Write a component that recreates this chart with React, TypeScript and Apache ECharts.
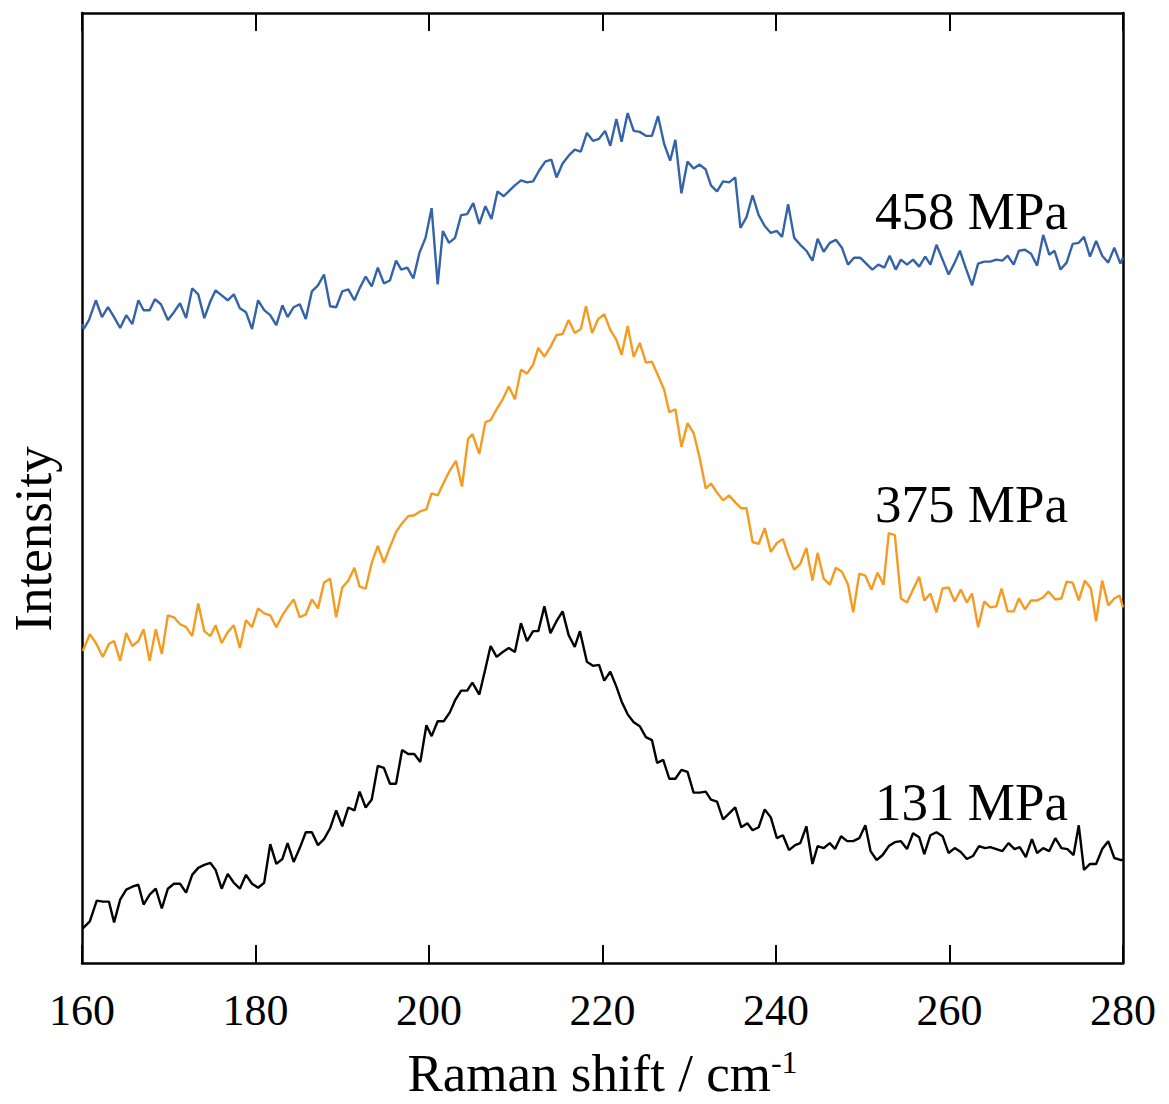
import React, { useEffect, useRef } from "react";
import * as echarts from "echarts";

// Raman shift (cm^-1) and intensity (a.u.)
const x458 = [160.0,160.2,160.8,161.6,162.3,163.0,163.7,164.4,165.1,165.8,166.5,167.1,167.8,168.4,169.1,169.9,170.6,171.3,172.0,172.7,173.4,174.1,174.8,175.4,176.1,176.8,177.5,178.2,178.9,179.6,180.3,181.0,181.7,182.4,183.1,183.7,184.4,185.1,185.8,186.5,187.2,187.9,188.6,189.3,190.0,190.7,191.4,192.0,192.7,193.4,194.1,194.8,195.5,196.2,
  196.8,197.5,198.2,198.9,199.6,200.3,201.0,201.6,202.3,203.0,203.7,204.4,205.1,205.8,206.5,207.2,207.9,208.6,209.3,209.9,210.6,211.3,212.0,212.7,213.4,214.1,214.7,215.4,216.1,216.8,217.5,218.2,218.9,219.6,220.3,220.9,221.6,222.2,222.9,223.6,224.3,225.0,225.7,226.4,227.1,227.8,228.4,229.1,229.8,230.5,231.2,231.9,232.5,233.2,233.9,234.6,235.3,235.9,236.6,237.3,238.0,238.7,239.4,240.1,
  240.7,241.4,242.1,242.8,243.5,244.2,244.8,245.5,246.2,246.9,247.6,248.3,249.0,249.7,250.4,251.1,251.8,252.5,253.1,253.8,254.4,255.1,255.8,256.5,257.2,257.8,258.5,259.2,259.9,260.6,261.2,261.9,262.6,263.3,264.0,264.7,265.4,266.1,266.7,267.4,268.0,268.7,269.4,270.1,270.8,271.5,272.1,272.8,273.5,274.2,274.9,275.5,276.2,276.9,277.6,278.3,279.0,279.7,280.0];
const y458 = [645,640,649,669,652,662,652,641,654,645,669,659,659,670,665,649,657,666,651,681,675,651,668,679,674,669,675,661,657,640,669,659,654,644,664,652,662,665,650,678,684,695,663,662,678,680,669,681,693,683,702,686,689,709,
  700,702,691,717,732,762,685,739,727,732,755,756,767,746,764,751,779,774,780,785,790,788,789,800,809,811,793,807,815,821,819,838,830,832,840,825,852,829,858,840,839,835,835,855,827,810,831,777,809,802,806,801,785,779,789,788,793,742,753,775,755,744,737,739,
  733,766,732,725,719,709,731,718,727,730,722,705,712,712,706,700,705,702,714,700,710,705,710,703,713,705,725,710,695,707,719,701,684,706,708,708,710,709,714,705,719,720,716,704,735,715,719,700,707,726,727,733,713,729,714,707,722,706,712];

const x375 = [160.1,160.9,161.6,162.4,163.1,163.7,164.4,165.1,165.8,166.5,167.1,167.8,168.5,169.2,169.9,170.6,171.3,172.0,172.7,173.4,174.1,174.8,175.4,176.1,176.8,177.5,178.2,178.9,179.6,180.3,181.0,181.7,182.4,183.1,183.7,184.4,185.1,185.8,186.5,187.2,187.9,188.6,189.3,190.0,190.7,191.4,192.0,192.7,193.4,194.1,194.8,195.5,196.2,196.9,197.6,198.3,199.0,199.7,200.3,201.0,201.7,202.4,203.1,203.8,204.5,
  205.0,205.8,206.5,207.1,207.8,208.5,209.2,209.9,210.6,211.3,212.0,212.6,213.3,214.0,214.7,215.4,216.1,216.8,217.5,218.1,218.8,219.5,220.2,220.9,221.6,222.2,222.9,223.6,224.3,225.0,225.7,226.4,227.1,227.7,228.4,229.1,229.8,230.5,231.2,231.9,232.5,233.2,233.9,234.6,235.3,236.0,236.6,237.3,238.0,238.7,239.4,240.1,240.8,
  241.4,242.1,242.8,243.5,244.2,244.8,245.5,246.2,246.9,247.6,248.3,248.9,249.6,250.3,251.0,251.7,252.4,253.0,253.7,254.4,255.1,255.8,256.5,257.1,257.8,258.5,259.2,259.9,260.6,261.3,262.0,262.6,263.3,264.0,264.7,265.4,266.0,266.7,267.4,268.0,268.7,269.4,270.1,270.8,271.4,272.2,272.9,273.5,274.2,274.9,275.6,276.3,276.9,277.6,278.3,279.0,279.6,280.0];
const y375 = [315,332,323,309,322,325,305,333,320,325,337,305,337,312,351,349,342,339,330,363,335,330,341,323,334,341,318,346,339,358,353,351,339,351,359,367,349,352,367,358,384,388,349,379,386,399,380,378,404,421,404,420,435,444,451,452,456,458,474,472,485,497,507,481,529,
  534,514,546,548,559,569,582,569,599,595,604,621,612,622,634,635,649,636,640,663,636,650,655,639,629,614,643,612,626,606,607,593,579,556,559,521,545,535,510,479,484,475,467,472,465,459,459,425,423,439,415,424,428,
  412,397,403,419,386,414,388,382,399,395,382,354,393,391,377,394,382,434,432,368,364,377,390,366,373,354,378,379,365,377,364,373,339,365,359,360,378,355,355,368,357,366,366,369,375,367,368,385,384,366,386,378,345,386,361,368,371,359];

const x131 = [160.1,160.9,161.7,162.4,163.1,163.7,164.4,165.1,165.8,166.5,167.1,167.8,168.5,169.2,169.9,170.6,171.3,172.0,172.7,173.4,174.1,174.8,175.4,176.1,176.8,177.5,178.2,178.9,179.6,180.3,181.0,181.7,182.4,183.1,183.7,184.4,185.1,185.8,186.5,187.2,187.9,188.6,189.3,190.0,190.7,191.4,192.0,192.7,193.4,194.1,194.8,195.5,196.2,196.9,197.6,198.3,199.0,199.7,200.3,201.0,201.7,202.4,
  203.0,203.7,204.4,205.0,205.8,206.5,207.1,207.8,208.5,209.2,209.9,210.6,211.3,212.0,212.6,213.3,214.0,214.7,215.4,216.1,216.8,217.4,218.2,218.9,219.6,220.2,220.9,221.6,222.2,222.9,223.6,224.3,225.0,225.7,226.3,227.0,227.7,228.4,229.1,229.8,230.5,231.2,231.9,232.5,233.2,233.9,234.6,235.3,236.0,236.7,237.3,238.0,238.7,239.4,240.1,240.8,241.5,242.2,242.8,
  243.5,244.2,244.8,245.5,246.2,246.8,247.5,248.2,248.9,249.6,250.3,250.9,251.6,252.3,253.0,253.7,254.4,255.1,255.8,256.5,257.1,257.8,258.5,259.2,259.9,260.6,261.3,262.0,262.7,263.4,264.1,264.7,265.4,266.1,266.8,267.5,268.1,268.8,269.5,270.1,270.8,271.5,272.2,272.9,273.6,274.3,274.9,275.5,276.2,276.9,277.6,278.3,279.0,279.7,280.0];
const y131 = [35,42,63,62,62,41,64,74,77,79,59,69,75,55,75,80,80,71,89,96,99,101,94,75,90,81,75,89,80,76,81,120,100,105,121,102,116,132,132,119,125,136,154,138,157,154,173,157,165,199,197,181,181,215,211,211,203,240,229,244,244,253,
  265,275,275,283,271,297,320,309,314,318,314,343,325,335,335,360,333,345,355,331,319,335,304,300,301,285,294,279,264,251,243,239,228,225,202,205,186,186,195,193,172,172,173,165,163,145,151,157,137,141,134,137,155,147,126,129,114,119,121,
  138,100,118,116,121,115,128,123,123,126,139,113,104,109,118,122,123,115,131,127,110,129,132,128,111,116,112,105,108,118,116,117,115,113,121,115,117,107,125,111,116,113,126,116,115,109,139,94,100,100,115,123,106,104,104];

const seriesNames = ["131 MPa", "375 MPa", "458 MPa"];
const seriesColors = ["#000000", "#f59b22", "#3463a8"];
const xTicks = [160, 180, 200, 220, 240, 260, 280];
const yAxisTitle = "Intensity";

const FONT = '"Liberation Serif", "Times New Roman", serif';

function pairs(xs: number[], ys: number[]) {
  return xs.map((x, i) => [x, ys[i]]);
}

export default function App() {
  const ref = useRef<HTMLDivElement>(null);
  useEffect(() => {
    if (!ref.current) return;
    const chart = echarts.init(ref.current, null, { renderer: "svg" });
    const datasets = [pairs(x131, y131), pairs(x375, y375), pairs(x458, y458)];
    const axisLine = { show: true, onZero: false, lineStyle: { color: "#000", width: 2.5 } };
    chart.setOption({
      animation: false,
      backgroundColor: "#fff",
      grid: { left: 82, right: 46, top: 13, bottom: 132 },
      xAxis: [
        {
          type: "value",
          min: xTicks[0],
          max: xTicks[xTicks.length - 1],
          interval: 20,
          position: "bottom",
          axisLine,
          axisTick: { show: true, inside: true, length: 18, lineStyle: { color: "#000", width: 2 } },
          axisLabel: { show: true, fontFamily: FONT, fontSize: 44, color: "#000", margin: 25 },
          splitLine: { show: false },
          name: "{a|Raman shift / cm}{b|-1}",
          nameLocation: "middle",
          nameGap: 83,
          nameTextStyle: {
            rich: {
              a: { fontFamily: FONT, fontSize: 53, color: "#000" },
              b: { fontFamily: FONT, fontSize: 32, color: "#000", verticalAlign: "top" },
            },
          },
        },
        {
          type: "value",
          min: xTicks[0],
          max: xTicks[xTicks.length - 1],
          interval: 20,
          position: "top",
          axisLine,
          axisTick: { show: true, inside: true, length: 18, lineStyle: { color: "#000", width: 2 } },
          axisLabel: { show: false },
          splitLine: { show: false },
        },
      ],
      yAxis: [
        {
          type: "value",
          min: 0,
          max: 959,
          position: "left",
          axisLine,
          axisTick: { show: false },
          axisLabel: { show: false },
          splitLine: { show: false },
        },
        {
          type: "value",
          min: 0,
          max: 959,
          position: "right",
          axisLine,
          axisTick: { show: false },
          axisLabel: { show: false },
          splitLine: { show: false },
        },
      ],
      series: seriesNames.map((name, i) => ({
        name,
        type: "line",
        xAxisIndex: 0,
        yAxisIndex: 0,
        data: datasets[i],
        showSymbol: false,
        symbol: "none",
        lineStyle: { color: seriesColors[i], width: 2.4 },
        itemStyle: { color: seriesColors[i] },
        z: 2,
      })),
      graphic: [
        { type: "text", x: 33, y: 539, rotation: Math.PI / 2, style: { text: yAxisTitle, fontFamily: FONT, fontSize: 53, fill: "#000", align: "center", verticalAlign: "middle" } },
        { type: "text", x: 1068, y: 211, style: { text: seriesNames[2], fontFamily: FONT, fontSize: 53, fill: "#000", align: "right", verticalAlign: "middle" } },
        { type: "text", x: 1068, y: 504, style: { text: seriesNames[1], fontFamily: FONT, fontSize: 53, fill: "#000", align: "right", verticalAlign: "middle" } },
        { type: "text", x: 1068, y: 802, style: { text: seriesNames[0], fontFamily: FONT, fontSize: 53, fill: "#000", align: "right", verticalAlign: "middle" } },
      ],
    });
    return () => chart.dispose();
  }, []);
  return (
    <div
      ref={ref}
      style={{ position: "fixed", left: 0, top: 0, width: 1169, height: 1104, background: "#fff" }}
    />
  );
}
